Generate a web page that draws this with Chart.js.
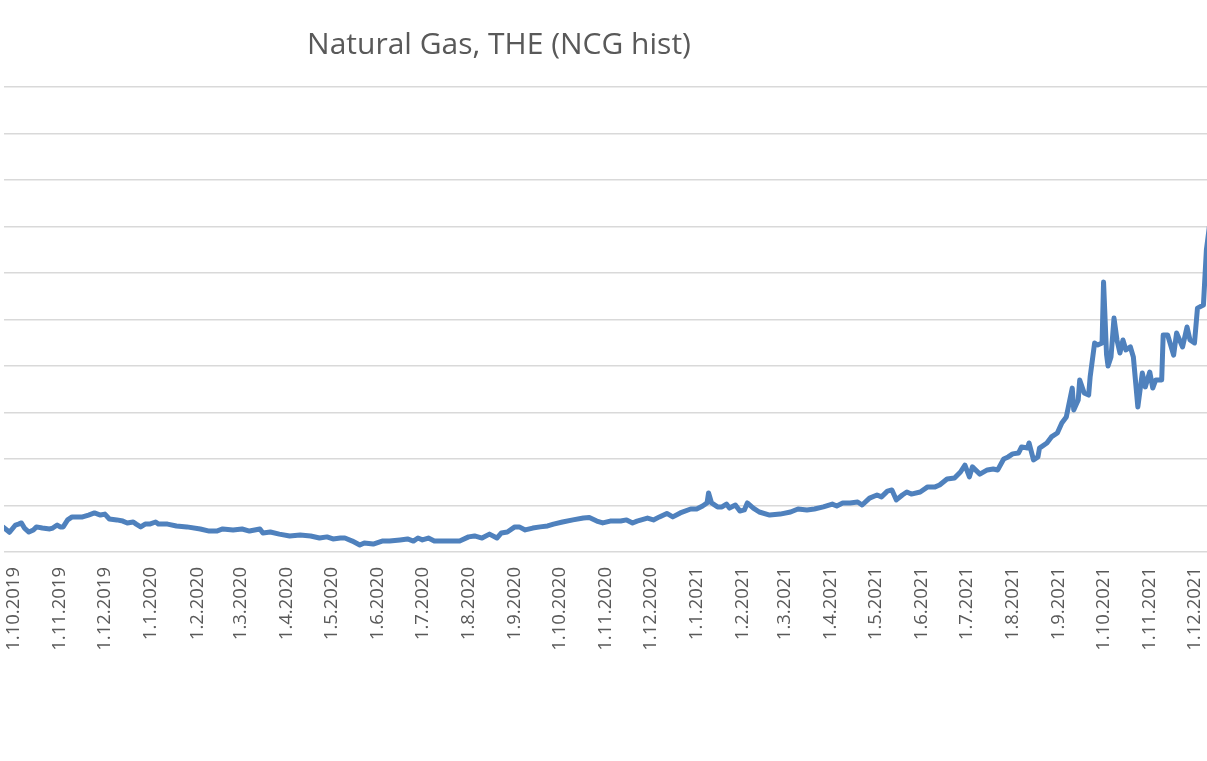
<!DOCTYPE html>
<html>
<head>
<meta charset="utf-8">
<title>Natural Gas, THE (NCG hist)</title>
<script src="https://cdn.jsdelivr.net/npm/chart.js@4.4.1/dist/chart.umd.min.js"></script>
<style>
    html, body { margin: 0; padding: 0; background: #ffffff; overflow: hidden; }
    /* the original picture is a crop: value axis sits off-screen on the left */
    #wrap { position: absolute; left: -209px; top: 0; width: 1416px; height: 761px; }
</style>
</head>
<body>
<div id="wrap"><canvas id="gas-chart"></canvas></div>
<script>
const chartTitle = "Natural Gas, THE (NCG hist)";

// month labels on the date axis
const monthTicks = [
    "1.10.2019", "1.11.2019", "1.12.2019", "1.1.2020", "1.2.2020", "1.3.2020",
    "1.4.2020", "1.5.2020", "1.6.2020", "1.7.2020", "1.8.2020", "1.9.2020",
    "1.10.2020", "1.11.2020", "1.12.2020", "1.1.2021", "1.2.2021", "1.3.2021",
    "1.4.2021", "1.5.2021", "1.6.2021", "1.7.2021", "1.8.2021", "1.9.2021",
    "1.10.2021", "1.11.2021", "1.12.2021"
];

// price readings (EUR/MWh)
const dates = [
    "2019-09-24", "2019-09-28", "2019-10-02", "2019-10-04", "2019-10-06", "2019-10-08",
    "2019-10-11", "2019-10-14", "2019-10-16", "2019-10-20", "2019-10-25", "2019-10-27",
    "2019-10-30", "2019-11-01", "2019-11-03", "2019-11-06", "2019-11-09", "2019-11-12",
    "2019-11-16", "2019-11-20", "2019-11-24", "2019-11-28", "2019-12-01", "2019-12-04",
    "2019-12-09", "2019-12-13", "2019-12-16", "2019-12-20", "2019-12-22", "2019-12-25",
    "2019-12-28", "2019-12-31", "2020-01-04", "2020-01-06", "2020-01-12", "2020-01-18",
    "2020-01-25", "2020-02-03", "2020-02-09", "2020-02-14", "2020-02-18", "2020-02-25",
    "2020-03-02", "2020-03-07", "2020-03-14", "2020-03-16", "2020-03-21", "2020-03-27",
    "2020-04-03", "2020-04-10", "2020-04-17", "2020-04-23", "2020-04-28", "2020-05-02",
    "2020-05-07", "2020-05-10", "2020-05-15", "2020-05-20", "2020-05-23", "2020-05-29",
    "2020-06-04", "2020-06-09", "2020-06-16", "2020-06-21", "2020-06-25", "2020-06-28",
    "2020-07-01", "2020-07-05", "2020-07-09", "2020-07-15", "2020-07-21", "2020-07-26",
    "2020-08-01", "2020-08-05", "2020-08-10", "2020-08-15", "2020-08-20", "2020-08-23",
    "2020-08-27", "2020-09-01", "2020-09-04", "2020-09-08", "2020-09-13", "2020-09-18",
    "2020-09-23", "2020-09-27", "2020-10-03", "2020-10-10", "2020-10-17", "2020-10-21",
    "2020-10-26", "2020-10-30", "2020-11-04", "2020-11-11", "2020-11-15", "2020-11-19",
    "2020-11-22", "2020-11-29", "2020-12-03", "2020-12-07", "2020-12-12", "2020-12-16",
    "2020-12-21", "2020-12-28", "2021-01-01", "2021-01-05", "2021-01-08", "2021-01-09",
    "2021-01-11", "2021-01-15", "2021-01-18", "2021-01-21", "2021-01-23", "2021-01-27",
    "2021-01-30", "2021-02-02", "2021-02-04", "2021-02-08", "2021-02-12", "2021-02-19",
    "2021-02-26", "2021-03-05", "2021-03-10", "2021-03-16", "2021-03-21", "2021-03-27",
    "2021-04-02", "2021-04-05", "2021-04-09", "2021-04-14", "2021-04-19", "2021-04-22",
    "2021-04-27", "2021-05-02", "2021-05-05", "2021-05-09", "2021-05-12", "2021-05-15",
    "2021-05-19", "2021-05-22", "2021-05-25", "2021-05-31", "2021-06-05", "2021-06-10",
    "2021-06-13", "2021-06-18", "2021-06-23", "2021-06-27", "2021-06-30", "2021-07-03",
    "2021-07-05", "2021-07-10", "2021-07-15", "2021-07-19", "2021-07-22", "2021-07-26",
    "2021-07-29", "2021-08-01", "2021-08-05", "2021-08-07", "2021-08-11", "2021-08-12",
    "2021-08-15", "2021-08-18", "2021-08-19", "2021-08-24", "2021-08-27", "2021-08-31",
    "2021-09-03", "2021-09-06", "2021-09-10", "2021-09-11", "2021-09-14", "2021-09-15",
    "2021-09-18", "2021-09-21", "2021-09-22", "2021-09-25", "2021-09-27", "2021-09-30",
    "2021-10-01", "2021-10-03", "2021-10-04", "2021-10-06", "2021-10-08", "2021-10-10",
    "2021-10-12", "2021-10-14", "2021-10-16", "2021-10-19", "2021-10-21", "2021-10-24",
    "2021-10-27", "2021-10-29", "2021-11-01", "2021-11-03", "2021-11-05", "2021-11-09",
    "2021-11-10", "2021-11-13", "2021-11-17", "2021-11-19", "2021-11-23", "2021-11-26",
    "2021-11-28", "2021-12-01", "2021-12-03", "2021-12-07", "2021-12-09", "2021-12-11"
];
const prices = [
    10.6, 8.5, 11.6, 12.0, 12.5, 10.3,
    8.6, 9.5, 10.8, 10.3, 9.9, 10.3,
    11.6, 10.8, 10.8, 13.8, 15.1, 15.1,
    15.1, 15.9, 16.8, 15.9, 16.3, 14.2,
    13.8, 13.3, 12.5, 12.9, 12.0, 10.8,
    12.0, 12.0, 12.9, 12.0, 12.0, 11.2,
    10.8, 9.9, 9.0, 9.0, 9.9, 9.5,
    9.9, 9.0, 9.9, 8.2, 8.6, 7.7,
    6.9, 7.3, 6.9, 6.0, 6.5, 5.6,
    6.0, 6.0, 4.7, 3.0, 3.9, 3.4,
    4.7, 4.7, 5.2, 5.6, 4.7, 6.0,
    5.2, 6.0, 4.7, 4.7, 4.7, 4.7,
    6.5, 6.9, 6.0, 7.7, 6.0, 8.2,
    8.6, 10.8, 10.8, 9.5, 10.3, 10.8,
    11.2, 12.0, 12.9, 13.8, 14.6, 14.8,
    13.3, 12.5, 13.3, 13.3, 13.8, 12.5,
    13.3, 14.6, 13.8, 15.1, 16.6, 15.1,
    16.8, 18.5, 18.5, 19.8, 21.1, 25.4,
    21.1, 19.4, 19.4, 20.6, 18.9, 20.2,
    17.6, 18.1, 21.1, 18.9, 17.2, 15.9,
    16.3, 17.2, 18.5, 18.1, 18.5, 19.4,
    20.6, 19.8, 21.1, 21.1, 21.5, 20.2,
    23.2, 24.5, 23.7, 26.2, 26.7, 22.4,
    24.5, 25.8, 24.9, 25.8, 28.0, 28.0,
    28.8, 31.4, 31.8, 34.4, 37.4, 32.3,
    36.6, 33.5, 35.3, 35.7, 35.3, 40.0,
    40.9, 42.2, 42.6, 45.2, 44.7, 46.9,
    39.6, 40.9, 44.7, 46.9, 49.5, 51.2,
    55.5, 58.1, 70.5, 61.1, 65.4, 74.0,
    68.4, 67.5, 75.3, 89.9, 89.0, 89.9,
    116.1, 85.0, 80.0, 83.9, 100.6, 91.2,
    85.6, 91.2, 86.9, 88.2, 83.9, 62.4,
    77.0, 71.0, 77.4, 70.5, 74.0, 74.0,
    93.3, 93.3, 84.7, 94.2, 88.2, 96.8,
    91.2, 89.9, 104.9, 106.2, 130.0, 140.0
];

const yMin = 0;
const yMax = 200;
const yStep = 20;

// x axis is a plain day count from 1.10.2019
const DAY = 86400000;
const START = Date.UTC(2019, 9, 1);

function isoToDay(s) {
    const p = s.split("-").map(Number);
    return (Date.UTC(p[0], p[1] - 1, p[2]) - START) / DAY;
}

function labelToDay(s) {
    const p = s.split(".").map(Number);
    return (Date.UTC(p[2], p[1] - 1, p[0]) - START) / DAY;
}

function dayToLabel(v) {
    const d = new Date(START + Math.round(v) * DAY);
    return d.getUTCDate() + "." + (d.getUTCMonth() + 1) + "." + d.getUTCFullYear();
}

const points = dates.map((d, i) => ({ x: isoToDay(d), y: prices[i] }));
const tickDays = monthTicks.map(labelToDay);

new Chart(document.getElementById("gas-chart").getContext("2d"), {
    type: 'line',
    data: {
        datasets: [
            {
                label: chartTitle,
                data: points,
                borderColor: '#4f81bd',
                borderWidth: 5,
                borderJoinStyle: 'round',
                borderCapStyle: 'round',
                pointRadius: 0,
                tension: 0,
                fill: false
            }
        ]
    },
    options: {
        responsive: true,
        maintainAspectRatio: false,
        animation: false,
        layout: { padding: 0 },
        plugins: {
            legend: { display: false },
            tooltip: { enabled: false },
            title: {
                display: true,
                text: chartTitle,
                color: '#595959',
                font: { family: "'Open Sans', sans-serif", size: 30, weight: 'normal', lineHeight: 1.2 },
                padding: { top: 27, bottom: 24 }
            }
        },
        scales: {
            x: {
                type: 'linear',
                min: -6.7,
                max: 800.4,
                afterBuildTicks: (scale) => {
                    scale.ticks = tickDays.map(v => ({ value: v }));
                },
                afterFit: (scale) => {
                    scale.height = 209;
                    // plot runs right up to the cropped edge
                    scale.paddingLeft = 0;
                    scale.paddingRight = 0;
                },
                grid: { display: false, drawTicks: false },
                border: { display: false },
                ticks: {
                    autoSkip: false,
                    minRotation: 90,
                    maxRotation: 90,
                    padding: 15,
                    color: '#595959',
                    font: { family: "'Open Sans', sans-serif", size: 18.5 },
                    callback: (value) => dayToLabel(value)
                }
            },
            y: {
                min: yMin,
                max: yMax,
                afterFit: (scale) => {
                    scale.width = 213;
                },
                grid: { color: '#d9d9d9', lineWidth: 1.5, drawTicks: false },
                border: { display: false },
                ticks: { display: false, stepSize: yStep }
            }
        }
    }
});
</script>
</body>
</html>
